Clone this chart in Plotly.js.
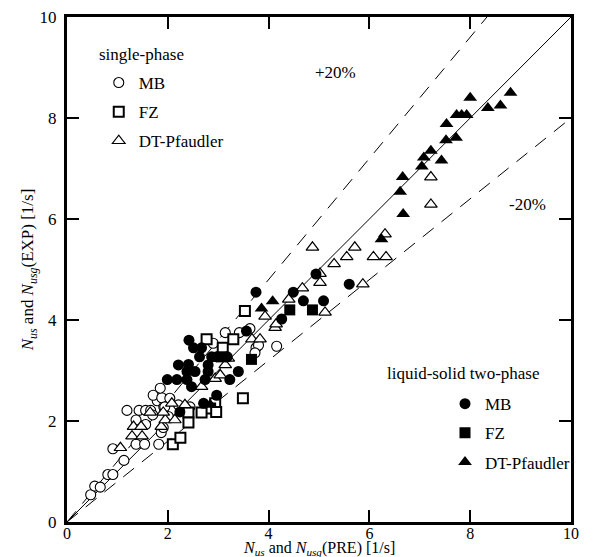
<!DOCTYPE html>
<html><head><meta charset="utf-8">
<script src="https://cdn.plot.ly/plotly-3.0.1.min.js"></script>
<style>html,body{margin:0;padding:0;background:#fff}</style>
</head><body><div id="chart" style="width:604px;height:557px"></div>
<script>
// Reference lines
const parityX = [0, 10], parityY = [0, 10];
const plus20X = [0, 8.333], plus20Y = [0, 10];
const minus20X = [0, 10], minus20Y = [0, 8];

// Single-phase MB (open circles)
const spMBx = [0.47,0.55,0.66,0.81,0.91,1.13,0.91,1.19,1.43,1.56,1.66,1.79,1.92,1.37,1.56,1.37,1.54,1.82,2.01,1.87,1.70,
               1.71,1.88,2.04,2.21,2.44,1.94,2.90,3.14,3.42,3.75,1.91,1.85,3.63,3.80,3.73,4.16];
const spMBy = [0.54,0.71,0.69,0.94,0.94,1.22,1.45,2.21,2.21,2.21,2.21,2.40,2.28,2.02,1.93,1.54,1.54,1.54,2.09,1.77,2.12,
               2.51,2.46,2.45,2.32,2.28,2.28,3.54,3.75,3.75,3.45,1.87,2.65,3.83,3.50,3.35,3.48];
// Single-phase FZ (open squares)
const spFZx = [2.10,2.25,2.77,3.30,3.09,3.49,2.94,2.84,2.67,2.41,2.41,3.53,2.96];
const spFZy = [1.54,1.67,3.62,3.62,3.45,2.45,2.35,2.25,2.17,2.17,1.97,4.18,2.18];
// Single-phase DT-Pfaudler (open triangles)
const spDTx = [1.32,1.47,1.29,1.49,1.06,1.87,1.95,2.14,2.67,2.94,3.14,2.08,1.91,1.65,3.67,3.83,3.04,3.93,3.20,2.34,
               4.87,5.30,5.55,5.71,6.08,6.33,6.31,5.02,5.02,4.67,4.40,5.87,5.12,4.13,4.15,7.22,7.22];
const spDTy = [1.89,1.89,1.70,1.70,1.47,1.89,2.02,2.02,2.68,2.84,3.11,2.35,2.17,2.17,3.62,3.62,2.91,4.07,3.24,2.32,
               5.44,5.11,5.25,5.44,5.25,5.25,5.70,4.92,4.74,4.63,4.41,4.71,4.15,3.85,3.92,6.83,6.29];
// Two-phase MB (filled circles)
const tpMBx = [2.42,2.51,2.67,2.63,2.87,2.97,3.18,2.41,2.21,2.80,2.38,2.54,2.80,3.40,1.99,2.18,2.38,2.74,3.23,2.47,2.97,2.71,2.24,
               3.56,4.26,4.49,4.69,5.09,5.60,4.94,3.75];
const tpMBy = [3.60,3.45,3.45,3.27,3.27,3.27,3.27,3.12,3.11,3.11,2.98,2.98,2.98,2.98,2.82,2.82,2.82,2.82,2.82,2.68,2.51,2.35,2.18,
               3.78,4.02,4.55,4.38,4.38,4.71,4.91,4.55];
// Two-phase FZ (filled squares)
const tpFZx = [3.66,3.07,4.42,4.87];
const tpFZy = [3.22,3.27,4.20,4.20];
// Two-phase DT-Pfaudler (filled triangles)
const tpDTx = [8.80,8.60,8.35,8.00,7.73,7.83,7.93,7.53,7.52,7.72,7.22,7.08,7.04,7.43,6.66,6.61,6.67,6.24,4.08,3.86,2.84];
const tpDTy = [8.50,8.25,8.20,8.40,8.06,8.06,8.06,7.88,7.56,7.61,7.35,7.22,7.04,7.16,6.83,6.54,6.10,5.60,4.37,4.23,2.32];

const xTitle = '<i>N</i><sub><i>us</i></sub> and <i>N</i><sub><i>usg</i></sub>(PRE) [1/s]';
const yTitle = '<i>N</i><sub><i>us</i></sub> and <i>N</i><sub><i>usg</i></sub>(EXP) [1/s]';

const FONT = 'Liberation Serif, "Times New Roman", serif';

const lineTr = (x, y, dash) => ({x, y, mode:'lines', type:'scatter', showlegend:false, hoverinfo:'skip',
  line:{color:'black', width:1, dash:dash}});
const mk = (x, y, name, symbol, size, fill, lw, legend, grp) => ({
  x, y, name, type:'scatter', mode:'markers', legend, legendgroup:grp,
  marker:{symbol, size, color:fill, line:{color:'black', width:lw}}
});

const traces = [
  lineTr(parityX, parityY, 'solid'),
  lineTr(plus20X, plus20Y, '14px,10px'),
  lineTr(minus20X, minus20Y, '14px,10px'),
  mk(spMBx, spMBy, 'MB', 'circle', 10, 'white', 1.1, 'legend', 'a'),
  mk(spFZx, spFZy, 'FZ', 'square', 10, 'white', 2, 'legend', 'b'),
  mk(spDTx, spDTy, 'DT-Pfaudler', 'triangle-up', 11, 'white', 1.2, 'legend', 'c'),
  mk(tpMBx, tpMBy, 'MB', 'circle', 11, 'black', 0, 'legend2', 'd'),
  mk(tpFZx, tpFZy, 'FZ', 'square', 11, 'black', 0, 'legend2', 'e'),
  mk(tpDTx, tpDTy, 'DT-Pfaudler', 'triangle-up', 12, 'black', 0, 'legend2', 'f')
];

const axisBase = {
  range:[0,10], dtick:2, tick0:0, ticks:'inside', ticklen:12, tickwidth:2, tickcolor:'black',
  showline:true, linewidth:3, linecolor:'black', mirror:'ticks', showgrid:false, zeroline:false,
  tickfont:{family:FONT, size:17, color:'black'}, automargin:false
};

const layout = {
  width:604, height:557,
  margin:{l:67, r:33, t:17, b:35},
  paper_bgcolor:'white', plot_bgcolor:'white',
  font:{family:FONT, size:17, color:'black'},
  xaxis:Object.assign({}, axisBase, {
    ticklabelstandoff:-5,
    tickfont:{family:FONT, size:16, color:'black'}
  }),
  yaxis:Object.assign({}, axisBase, {
    ticklabelstandoff:4,
    title:{text:yTitle, font:{family:FONT, size:17, color:'black'}, standoff:2}
  }),
  legend:{x:0.063, y:0.905, xanchor:'left', yanchor:'top', bgcolor:'rgba(0,0,0,0)', borderwidth:0,
    font:{family:FONT, size:17, color:'black'}, tracegroupgap:4},
  legend2:{x:0.75, y:0.269, xanchor:'left', yanchor:'top', bgcolor:'rgba(0,0,0,0)', borderwidth:0,
    font:{family:FONT, size:17, color:'black'}, tracegroupgap:4},
  annotations:[
    {text:xTitle, x:0.5, y:0, xref:'paper', yref:'paper', xanchor:'center', yanchor:'top', yshift:-15,
      showarrow:false, font:{family:FONT, size:16, color:'black'}},
    {text:'single-phase', x:0.6, y:9.25, xref:'x', yref:'y', xanchor:'left', yanchor:'middle', showarrow:false, font:{family:FONT, size:17}},
    {text:'liquid-solid two-phase', x:6.31, y:2.95, xref:'x', yref:'y', xanchor:'left', yanchor:'middle', showarrow:false, font:{family:FONT, size:17}},
    {text:'+20%', x:5.32, y:8.91, xref:'x', yref:'y', showarrow:false, font:{family:FONT, size:17}},
    {text:'-20%', x:9.13, y:6.28, xref:'x', yref:'y', showarrow:false, font:{family:FONT, size:17}}
  ],
  showlegend:true
};

Plotly.newPlot('chart', traces, layout, {displayModeBar:false, staticPlot:true});
</script></body></html>
